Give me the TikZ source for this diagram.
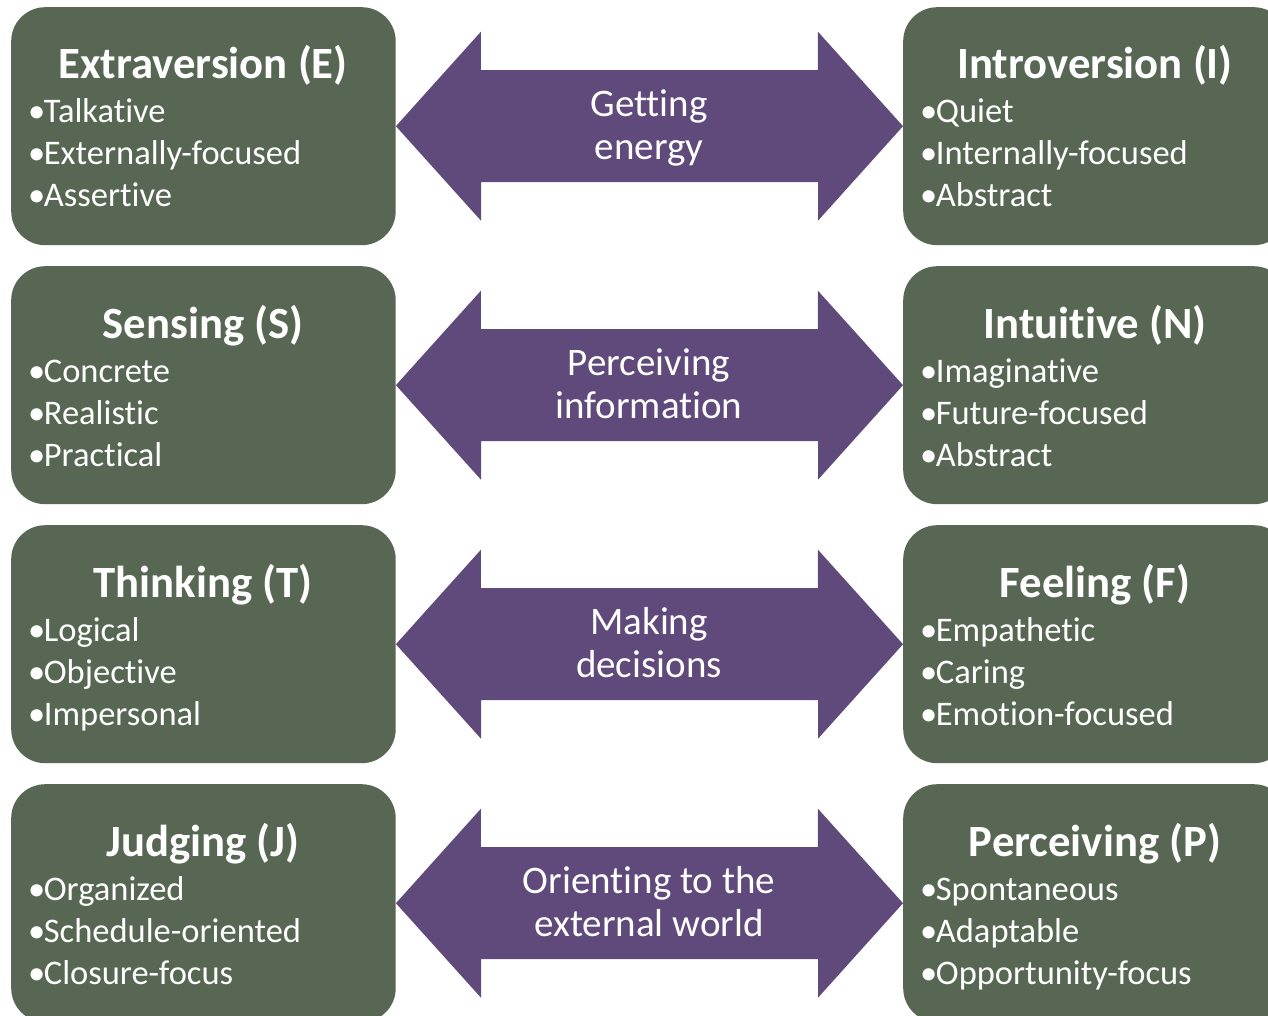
\documentclass[tikz,border=0pt]{standalone}
\usepackage{fontspec}
\setmainfont{Carlito}[Ligatures=CommonOff]
\definecolor{boxgreen}{HTML}{586754}
\definecolor{arrpurple}{HTML}{604A7B}
\newcommand{\bul}{•\kern-1.5pt}
\tikzset{
  card/.style={fill=boxgreen, draw=none, rounded corners=34pt, minimum width=384.5pt, minimum height=238pt, anchor=north west, inner sep=0pt},
  ttl/.style={text=white, font=\fontsize{44.7}{53}\selectfont\bfseries, anchor=base, inner sep=0pt},
  itm/.style={text=white, font=\fontsize{34.5}{42}\selectfont, anchor=base west, inner sep=0pt},
  lbl/.style={text=white, font=\fontsize{39}{43}\selectfont, anchor=base, inner sep=0pt},
  dbl/.style={fill=arrpurple, draw=none}
}
\newcommand{\dblarrow}[2]{%
  \fill[dbl] (#1.east) -- ++(85,-94.5) -- ++(0,38.5) -- ++(337,0) -- ++(0,-38.5)
    -- (#2.west) -- ++(-85,94.5) -- ++(0,-38.5) -- ++(-337,0) -- ++(0,38.5) -- cycle;}
\begin{document}
\begin{tikzpicture}[x=1pt,y=-1pt]
\clip (0,0) rectangle (1268,1016);
\fill[white] (0,0) rectangle (1268,1016);

% Row 1
\begin{scope}[shift={(0,0)}]
\node[card] (L1) at (11,7) {};
\node[card] (R1) at (903,7) {};
\dblarrow{L1}{R1}
\node[ttl] (L1t) at (203,79) {Extraversion (E)};
\node[itm] (L1a) at (28,123) {\bul Talkative};
\node[itm] (L1b) at (28,165) {\bul Externally-focused};
\node[itm] (L1c) at (28,207) {\bul Assertive};
\node[lbl] (A1a) at (649,116.5) {Getting};
\node[lbl] (A1b) at (649,159.5) {energy};
\node[ttl] (R1t) at (1095,79) {Introversion (I)};
\node[itm] (R1a) at (920,123) {\bul Quiet};
\node[itm] (R1b) at (920,165) {\bul Internally-focused};
\node[itm] (R1c) at (920,207) {\bul Abstract};
\end{scope}

% Row 2
\begin{scope}[shift={(0,259)}]
\node[card] (L2) at (11,7) {};
\node[card] (R2) at (903,7) {};
\dblarrow{L2}{R2}
\node[ttl] (L2t) at (203,79) {Sensing (S)};
\node[itm] (L2a) at (28,123) {\bul Concrete};
\node[itm] (L2b) at (28,165) {\bul Realistic};
\node[itm] (L2c) at (28,207) {\bul Practical};
\node[lbl] (A2a) at (649,116.5) {Perceiving};
\node[lbl] (A2b) at (649,159.5) {information};
\node[ttl] (R2t) at (1095,79) {Intuitive (N)};
\node[itm] (R2a) at (920,123) {\bul Imaginative};
\node[itm] (R2b) at (920,165) {\bul Future-focused};
\node[itm] (R2c) at (920,207) {\bul Abstract};
\end{scope}

% Row 3
\begin{scope}[shift={(0,518)}]
\node[card] (L3) at (11,7) {};
\node[card] (R3) at (903,7) {};
\dblarrow{L3}{R3}
\node[ttl] (L3t) at (203,79) {Thinking (T)};
\node[itm] (L3a) at (28,123) {\bul Logical};
\node[itm] (L3b) at (28,165) {\bul Objective};
\node[itm] (L3c) at (28,207) {\bul Impersonal};
\node[lbl] (A3a) at (649,116.5) {Making};
\node[lbl] (A3b) at (649,159.5) {decisions};
\node[ttl] (R3t) at (1095,79) {Feeling (F)};
\node[itm] (R3a) at (920,123) {\bul Empathetic};
\node[itm] (R3b) at (920,165) {\bul Caring};
\node[itm] (R3c) at (920,207) {\bul Emotion-focused};
\end{scope}

% Row 4
\begin{scope}[shift={(0,777)}]
\node[card] (L4) at (11,7) {};
\node[card] (R4) at (903,7) {};
\dblarrow{L4}{R4}
\node[ttl] (L4t) at (203,79) {Judging (J)};
\node[itm] (L4a) at (28,123) {\bul Organized};
\node[itm] (L4b) at (28,165) {\bul Schedule-oriented};
\node[itm] (L4c) at (28,207) {\bul Closure-focus};
\node[lbl] (A4a) at (649,116.5) {Orienting to the};
\node[lbl] (A4b) at (649,159.5) {external world};
\node[ttl] (R4t) at (1095,79) {Perceiving (P)};
\node[itm] (R4a) at (920,123) {\bul Spontaneous};
\node[itm] (R4b) at (920,165) {\bul Adaptable};
\node[itm] (R4c) at (920,207) {\bul Opportunity-focus};
\end{scope}
\end{tikzpicture}
\end{document}
